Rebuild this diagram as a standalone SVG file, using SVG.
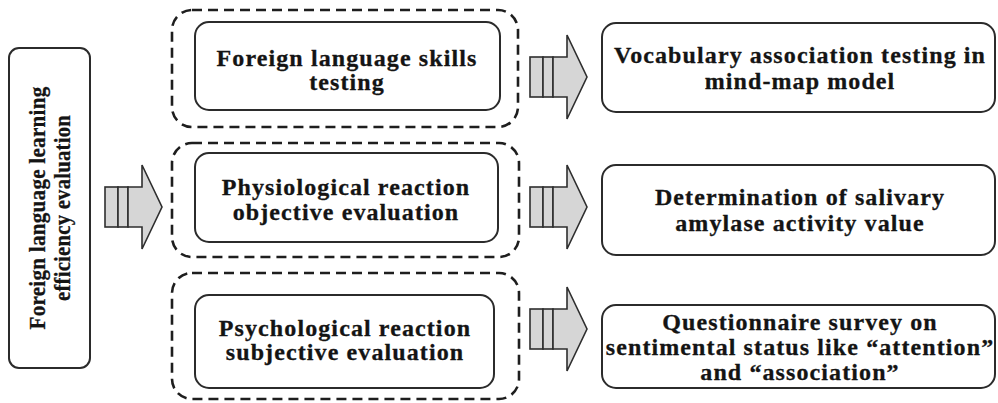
<svg xmlns="http://www.w3.org/2000/svg" width="998" height="403" viewBox="0 0 998 403">
<defs>
<style>
.bg{fill:#ffffff}
.box{fill:#ffffff;stroke:#2b2b2b;stroke-width:2}
.dash{fill:none;stroke:#1e1e1e;stroke-width:2.6;stroke-dasharray:10 6}
.arr{fill:#d6d6d6;stroke:#2e2e2e;stroke-width:1.6;stroke-linejoin:miter}
.t{font-family:"Liberation Serif","Times New Roman",serif;font-weight:bold;font-size:24px;fill:#141414;stroke:#141414;stroke-width:0.3;text-anchor:middle;letter-spacing:1.1px}
</style>
<g id="striped-arrow">
<rect class="arr" x="0" y="-20" width="13" height="40"/>
<rect class="arr" x="13" y="-20" width="10" height="40"/>
<path class="arr" d="M23,-20 H37 V-42 L57,0 L37,42 V20 H23 Z"/>
</g>
</defs>
<rect class="bg" x="0" y="0" width="998" height="403"/>

<g id="connectors">
<use href="#striped-arrow" x="105" y="207"/>
<use href="#striped-arrow" x="530" y="77"/>
<use href="#striped-arrow" x="530" y="207"/>
<use href="#striped-arrow" x="530" y="329"/>
</g>

<g id="root">
<rect class="box" x="9" y="48" width="81" height="320" rx="10"/>
<text class="t" transform="translate(45,208) rotate(-90)" x="0" y="0" style="letter-spacing:0.3px" textLength="243" lengthAdjust="spacingAndGlyphs">Foreign language learning</text>
<text class="t" transform="translate(70,208) rotate(-90)" x="0" y="0" style="letter-spacing:0.3px" textLength="186" lengthAdjust="spacingAndGlyphs">efficiency evaluation</text>
</g>

<g id="group-skills">
<rect class="dash" x="172" y="10" width="346" height="117" rx="20"/>
</g>
<g id="skills">
<rect class="box" x="195" y="22" width="305" height="88" rx="14"/>
<text class="t" x="347" y="66">Foreign language skills</text>
<text class="t" x="347" y="90">testing</text>
</g>

<g id="group-physio">
<rect class="dash" x="172" y="143" width="347" height="114" rx="20"/>
</g>
<g id="physio">
<rect class="box" x="195" y="153" width="303" height="89" rx="14"/>
<text class="t" x="346" y="195">Physiological reaction</text>
<text class="t" x="346" y="220">objective evaluation</text>
</g>

<g id="group-psycho">
<rect class="dash" x="172" y="273" width="347" height="126" rx="20"/>
</g>
<g id="psycho">
<rect class="box" x="195" y="295" width="299" height="93" rx="14"/>
<text class="t" x="345" y="336">Psychological reaction</text>
<text class="t" x="345" y="360">subjective evaluation</text>
</g>

<g id="vocab">
<rect class="box" x="602" y="23" width="393" height="89" rx="14"/>
<text class="t" x="800" y="63">Vocabulary association testing in</text>
<text class="t" x="800" y="89">mind-map model</text>
</g>

<g id="amylase">
<rect class="box" x="602" y="165" width="393" height="90" rx="14"/>
<text class="t" x="800" y="205">Determination of salivary</text>
<text class="t" x="800" y="231">amylase activity value</text>
</g>

<g id="questionnaire">
<rect class="box" x="602" y="305" width="393" height="83" rx="14"/>
<text class="t" x="800" y="330">Questionnaire survey on</text>
<text class="t" x="800" y="355">sentimental status like “attention”</text>
<text class="t" x="800" y="380">and “association”</text>
</g>
</svg>
